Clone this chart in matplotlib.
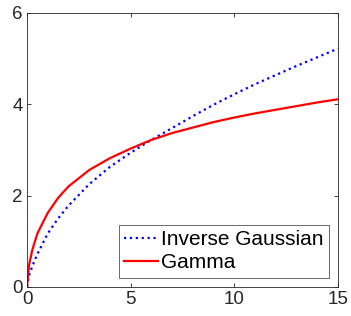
import matplotlib
matplotlib.use("Agg")
import matplotlib.pyplot as plt

x_vals = [0, 0.1, 0.25, 0.5, 1, 1.5, 2, 3, 4, 5, 6, 7, 8, 9, 10, 11, 12, 13, 14, 15]
gamma_vals = [0, 0.48, 0.80, 1.17, 1.62, 1.95, 2.20, 2.56, 2.82, 3.03, 3.22, 3.37, 3.49, 3.61, 3.71,
              3.80, 3.88, 3.96, 4.04, 4.11]
invgauss_vals = [0, 0.25, 0.45, 0.72, 1.17, 1.50, 1.78, 2.25, 2.63, 2.94, 3.22, 3.48, 3.74, 3.99, 4.22,
                 4.44, 4.64, 4.84, 5.03, 5.22]
x_ticks = [0, 5, 10, 15]
y_ticks = [0, 2, 4, 6]

plt.rcParams['font.family'] = ['Liberation Sans', 'DejaVu Sans']
fig = plt.figure(figsize=(3.51, 3.16), dpi=100)
ax = fig.add_axes([0.077, 0.092, 0.886, 0.867])
gray = (0.15, 0.15, 0.15)
ax.plot(x_vals, invgauss_vals, color='blue', linestyle=':', linewidth=1.6, label='Inverse Gaussian')
ax.plot(x_vals, gamma_vals, color='red', linestyle='-', linewidth=1.6, label='Gamma')
ax.set_xlim(0, 15)
ax.set_ylim(0, 6)
ax.set_xticks(x_ticks)
ax.set_yticks(y_ticks)
ax.tick_params(direction='in', top=True, right=True, length=3, width=0.6,
               colors=gray, labelsize=13.5, pad=3)
for s in ax.spines.values():
    s.set_color(gray)
    s.set_linewidth(0.6)
leg = ax.legend(loc='lower right', fontsize=15, frameon=True, fancybox=False,
                edgecolor=gray, borderpad=0.25, handlelength=1.6, handletextpad=0.15,
                labelspacing=0.2, borderaxespad=0.45)
leg.get_frame().set_linewidth(0.6)
for t in leg.get_texts():
    t.set_color('black')
fig.savefig('out.png', dpi=100)
